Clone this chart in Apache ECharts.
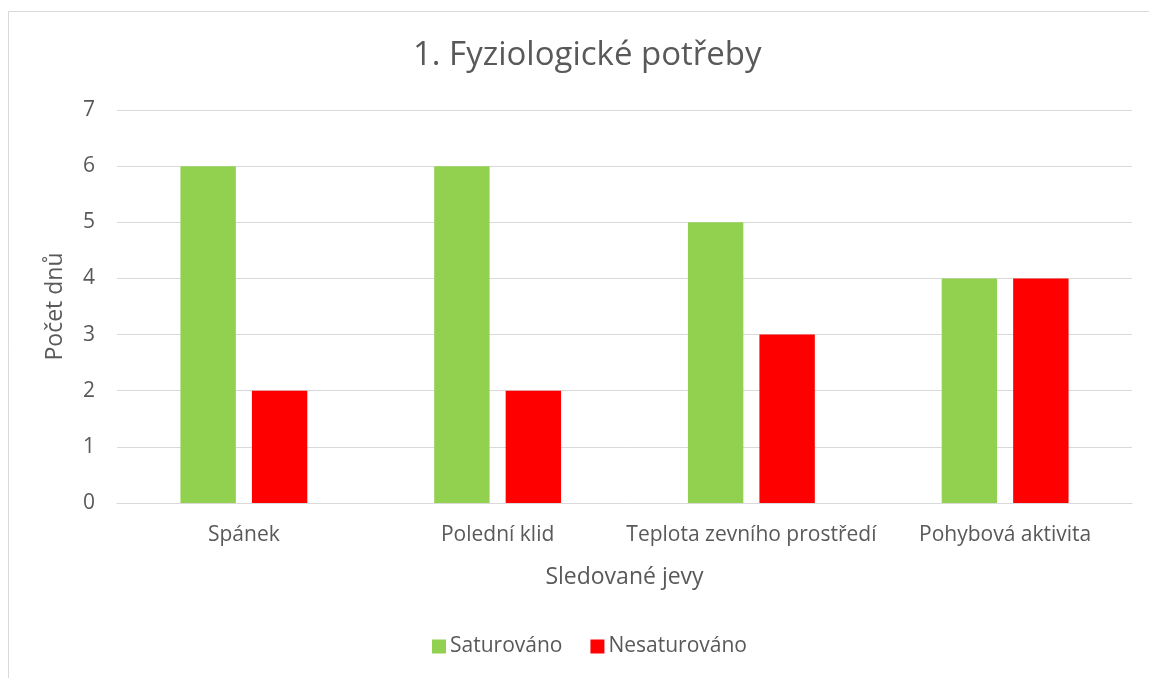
<!DOCTYPE html>
<html>
<head>
<meta charset="utf-8">
<script src="https://cdn.jsdelivr.net/npm/echarts@6/dist/echarts.min.js"></script>
<style>
  html, body { margin: 0; padding: 0; background: #fff; }
  #chart { width: 1149px; height: 678px; }
</style>
</head>
<body>
<div id="chart"></div>
<script>
const categories = ['Spánek', 'Polední klid', 'Teplota zevního prostředí', 'Pohybová aktivita']
const saturovano = [6, 6, 5, 4]
const nesaturovano = [2, 2, 3, 4]
const yTicks = [0, 1, 2, 3, 4, 5, 6, 7]

const fontFamily = '"Open Sans", "Noto Sans", sans-serif'
const textColor = '#595959'

const chart = echarts.init(document.getElementById('chart'))
const option = {
  animation: false,
  textStyle: { fontFamily: fontFamily },
  // outer chart border (only left/top visible in the crop)
  graphic: [{
    type: 'rect',
    shape: { x: 8.5, y: 11.5, width: 1300, height: 800 },
    style: { fill: 'none', stroke: '#d9d9d9', lineWidth: 1 },
    silent: true
  }],
  title: {
    text: '1. Fyziologické potřeby',
    left: 408,
    top: 34,
    textStyle: { fontSize: 33, fontWeight: 'normal', color: textColor, fontFamily: fontFamily }
  },
  legend: {
    bottom: 16,
    left: 427,
    itemWidth: 14,
    itemHeight: 14,
    itemGap: 28,
    icon: 'rect',
    textStyle: { fontSize: 21, color: textColor, fontFamily: fontFamily, padding: [0, 0, 0, -1] },
    data: ['Saturováno', 'Nesaturováno']
  },
  grid: { left: 117, right: 17, top: 110, bottom: 175 },
  xAxis: {
    type: 'category',
    data: categories,
    name: 'Sledované jevy',
    nameLocation: 'middle',
    nameGap: 63,
    nameTextStyle: { fontSize: 23, color: textColor },
    axisLine: { lineStyle: { color: '#d9d9d9' } },
    axisTick: { show: false },
    axisLabel: { fontSize: 21, color: textColor, margin: 22, interval: 0 }
  },
  yAxis: {
    type: 'value',
    min: yTicks[0],
    max: yTicks[yTicks.length - 1],
    interval: 1,
    name: 'Počet dnů',
    nameLocation: 'middle',
    nameGap: 50,
    nameTextStyle: { fontSize: 23, color: textColor },
    axisLine: { show: false },
    axisTick: { show: false },
    axisLabel: { fontSize: 21, color: textColor, margin: 22 },
    splitLine: { lineStyle: { color: '#d9d9d9' } }
  },
  series: [
    {
      name: 'Saturováno',
      type: 'bar',
      data: saturovano,
      barGap: '29%',
      barCategoryGap: '50%',
      itemStyle: { color: '#92d050' }
    },
    {
      name: 'Nesaturováno',
      type: 'bar',
      data: nesaturovano,
      itemStyle: { color: '#ff0000' }
    }
  ]
}
chart.setOption(option)
</script>
</body>
</html>
